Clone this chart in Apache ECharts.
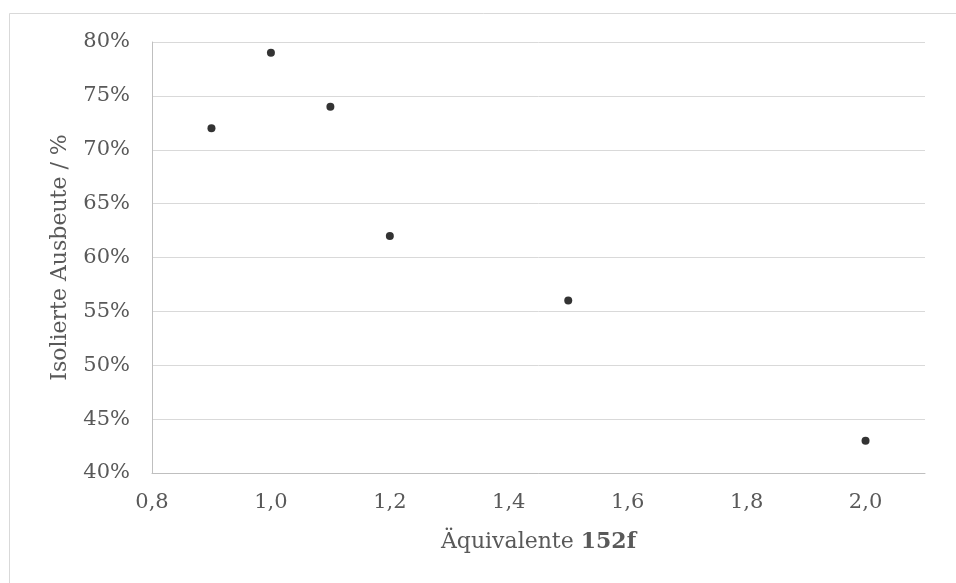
<!DOCTYPE html>
<html>
<head>
<meta charset="utf-8">
<script src="https://cdn.jsdelivr.net/npm/echarts@6/dist/echarts.min.js"></script>
<style>
html,body{margin:0;padding:0;background:#fff;}
#c{width:956px;height:583px;}
</style>
</head>
<body>
<div id="c"></div>
<script>
// Data
const equivalents = [0.9, 1.0, 1.1, 1.2, 1.5, 2.0];
const yields = [72, 79, 74, 62, 56, 43];
const xTickLabels = ['0,8', '1,0', '1,2', '1,4', '1,6', '1,8', '2,0'];
const yTickLabels = ['40%', '45%', '50%', '55%', '60%', '65%', '70%', '75%', '80%'];
const xTitle = 'Äquivalente ';
const xTitleBold = '152f';
const yTitle = 'Isolierte Ausbeute / %';

const FONT = 'DejaVu Serif';
const chart = echarts.init(document.getElementById('c'), null, {renderer: 'canvas'});

function fmtX(v) {
  const s = v.toFixed(1).replace('.', ',');
  return xTickLabels.indexOf(s) >= 0 ? s : '';
}
function fmtY(v) {
  const s = Math.round(v) + '%';
  return yTickLabels.indexOf(s) >= 0 ? s : '';
}

chart.setOption({
  animation: false,
  backgroundColor: '#fff',
  graphic: [{
    type: 'rect',
    shape: {x: 9.5, y: 13.5, width: 960, height: 600},
    style: {fill: 'none', stroke: '#d9d9d9', lineWidth: 1},
    silent: true
  }],
  grid: {left: 152, right: 31, top: 42, bottom: 110, containLabel: false},
  xAxis: {
    type: 'value',
    min: 0.8, max: 2.1, interval: 0.2,
    axisLine: {show: true, onZero: false, lineStyle: {color: '#bfbfbf', width: 1}},
    axisTick: {show: false},
    splitLine: {show: false},
    axisLabel: {formatter: fmtX, color: '#595959', fontFamily: FONT, fontSize: 21, margin: 19, showMaxLabel: false},
    name: '{a|' + xTitle + '}{b|' + xTitleBold + '}',
    nameLocation: 'middle',
    nameGap: 58,
    nameTextStyle: {
      rich: {
        a: {color: '#595959', fontFamily: FONT, fontSize: 22},
        b: {color: '#595959', fontFamily: FONT, fontSize: 22, fontWeight: 'bold'}
      }
    }
  },
  yAxis: {
    type: 'value',
    min: 40, max: 80, interval: 5,
    axisLine: {show: true, onZero: false, lineStyle: {color: '#bfbfbf', width: 1}},
    axisTick: {show: false},
    splitLine: {show: true, lineStyle: {color: '#d9d9d9', width: 1}},
    axisLabel: {formatter: fmtY, color: '#595959', fontFamily: FONT, fontSize: 21, margin: 22},
    name: yTitle,
    nameLocation: 'middle',
    nameGap: 81,
    nameTextStyle: {color: '#595959', fontFamily: FONT, fontSize: 22}
  },
  series: [{
    type: 'scatter',
    data: equivalents.map((x, i) => [x, yields[i]]),
    symbol: 'circle',
    symbolSize: 8,
    itemStyle: {color: '#000'}
  }]
});
</script>
</body>
</html>
